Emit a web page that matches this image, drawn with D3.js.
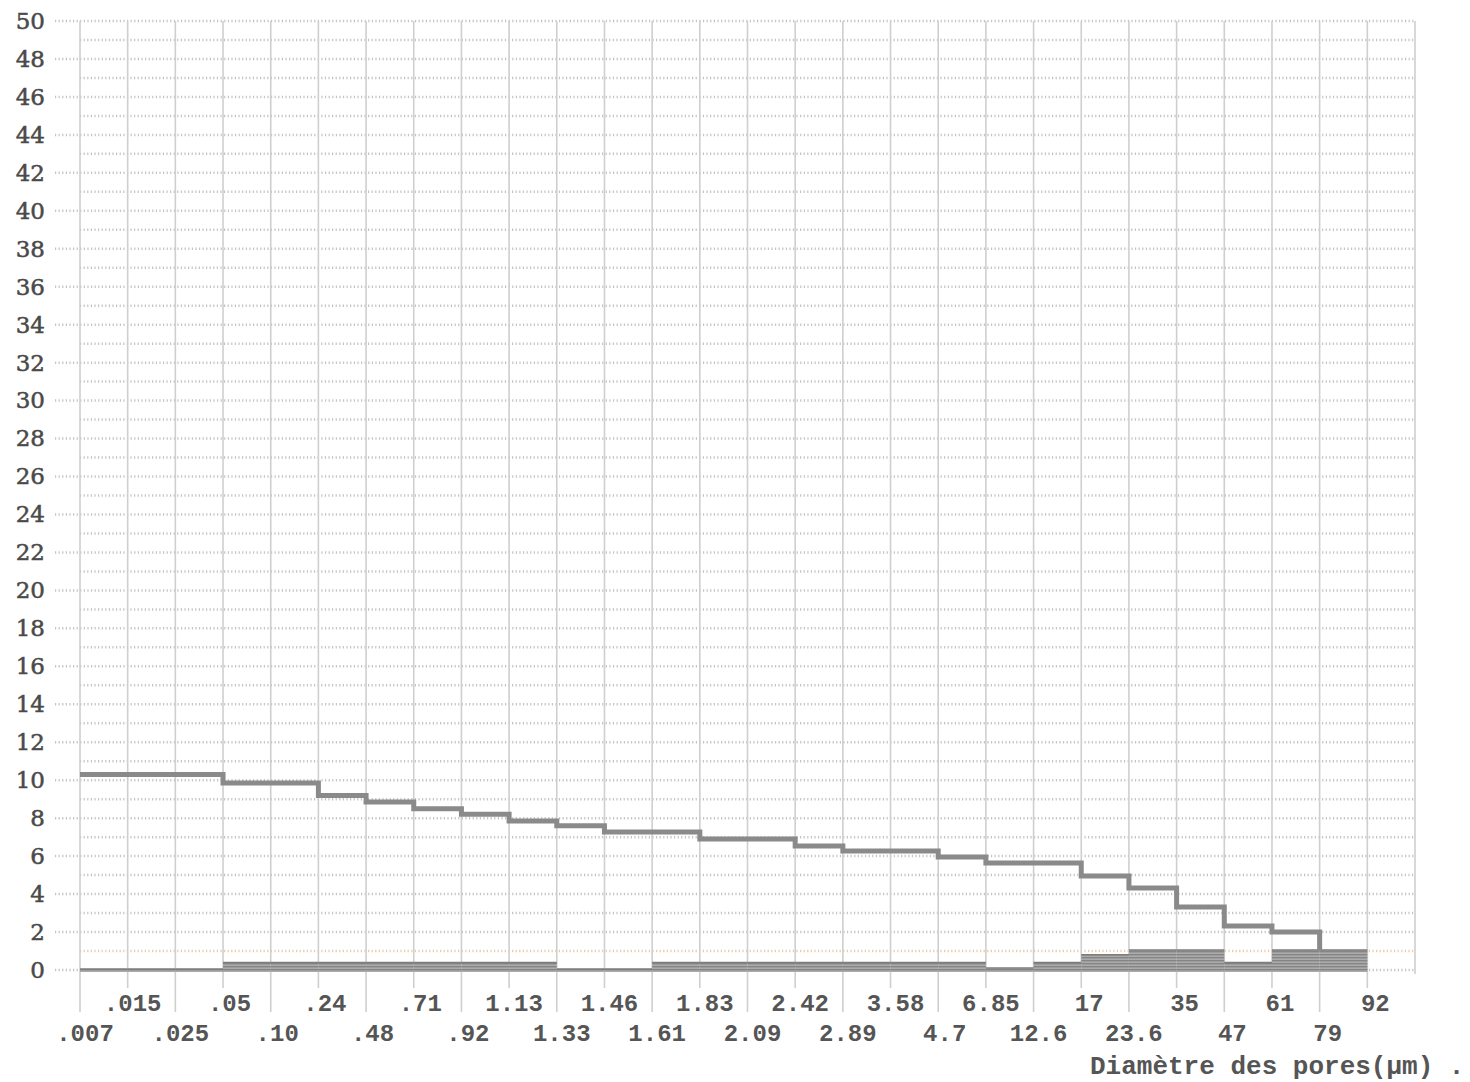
<!DOCTYPE html>
<html>
<head>
<meta charset="utf-8">
<script src="https://d3js.org/d3.v7.min.js"></script>
<style>
  body { margin: 0; background: #fff; }
</style>
</head>
<body>
<script>

// pore diameter class boundaries (µm)
const boundaries = [".007", ".015", ".025", ".05", ".10", ".24", ".48", ".71", ".92", "1.13",
  "1.33", "1.46", "1.61", "1.83", "2.09", "2.42", "2.89", "3.58", "4.7", "6.85",
  "12.6", "17", "23.6", "35", "47", "61", "79", "92"];

// cumulative curve, one value per class (from .007 up to 79)
const cumulative = [10.3, 10.3, 10.3, 9.85, 9.85, 9.2, 8.85, 8.5, 8.2, 7.85,
  7.6, 7.27, 7.27, 6.9, 6.9, 6.53, 6.27, 6.27, 5.95, 5.64,
  5.64, 4.95, 4.32, 3.32, 2.32, 2.0];

// histogram bars, one per class (from .007 up to 92)
const bars = [0.05, 0.05, 0.05, 0.4, 0.4, 0.4, 0.4, 0.4, 0.4, 0.4,
  0.05, 0.05, 0.4, 0.4, 0.4, 0.4, 0.4, 0.4, 0.4, 0.1,
  0.4, 0.8, 1.05, 1.05, 0.4, 1.05, 1.05];

const yTicks = d3.range(0, 51, 2);
const xTitle = "Diamètre des pores(µm) .";

let width = 1470, height = 1082;

var svg = d3.select("body").append("svg").attr("width", width).attr("height", height);

var x = d3.scaleLinear().domain([0, 28]).range([80, 1415]);
var y = d3.scaleLinear().domain([0, 50]).range([970, 21]);

// hatch for the bars
var defs = svg.append("defs");
var pat = defs.append("pattern").attr("id", "hatch")
  .attr("patternUnits", "userSpaceOnUse").attr("width", 8).attr("height", 3);
pat.append("rect").attr("width", 8).attr("height", 3).attr("fill", "#ababab");
pat.append("rect").attr("width", 8).attr("height", 1.4).attr("fill", "#858585");

// dotted horizontal grid, one per unit
svg.append("g").selectAll("line")
  .data(d3.range(0, 51))
  .enter().append("line")
    .attr("x1", d => d % 2 == 0 ? 55 : x(0))
    .attr("x2", x(28))
    .attr("y1", d => y(d)).attr("y2", d => y(d))
    .attr("stroke", d => d == 1 ? "#e9c9a9" : "#c4c4c4")
    .attr("stroke-width", 2.5)
    .attr("stroke-dasharray", "1.2,2.4");

// vertical grid at each class boundary, longer where a lower-row label sits
svg.append("g").selectAll("line")
  .data(d3.range(0, 29))
  .enter().append("line")
    .attr("x1", d => x(d)).attr("x2", d => x(d))
    .attr("y1", y(50))
    .attr("y2", d => d == 28 ? y(0) + 4 : (d % 2 == 1 ? 988 : 1012))
    .attr("stroke", "#cfcfcf")
    .attr("stroke-width", 1.6);

// baseline
svg.append("line")
  .attr("x1", x(0)).attr("x2", x(27))
  .attr("y1", y(0)).attr("y2", y(0))
  .attr("stroke", "#9fb3c8").attr("stroke-width", 2);

// histogram
svg.append("g").selectAll("rect")
  .data(bars)
  .enter().append("rect")
    .attr("x", (d, i) => x(i))
    .attr("width", (d, i) => x(i + 1) - x(i))
    .attr("y", d => y(d))
    .attr("height", d => y(0) - y(d) + 2)
    .attr("fill", "url(#hatch)");
svg.append("g").selectAll("line")
  .data(bars)
  .enter().append("line")
    .attr("x1", (d, i) => x(i)).attr("x2", (d, i) => x(i + 1))
    .attr("y1", d => y(d)).attr("y2", d => y(d))
    .attr("stroke", "#7d7d7d").attr("stroke-width", 1.5);

// cumulative step line
let pts = cumulative.map((v, i) => [i, v]);
pts.push([cumulative.length, cumulative[cumulative.length - 1]]);
pts.push([cumulative.length, bars[cumulative.length]]);
var line = d3.line().x(d => x(d[0])).y(d => y(d[1])).curve(d3.curveStepAfter);
svg.append("path")
  .attr("d", line(pts))
  .attr("fill", "none")
  .attr("stroke", "#8a8a8a")
  .attr("stroke-width", 5);

// y axis labels
var yAxis = svg.append("g").attr("transform", "translate(45,0)")
  .call(d3.axisLeft(y).tickValues(yTicks).tickSize(0).tickPadding(0));
yAxis.select(".domain").remove();
yAxis.selectAll("text")
  .attr("font-family", "DejaVu Serif")
  .attr("font-size", 23)
  .attr("fill", "#4a4a4a")
  .attr("stroke", "#4a4a4a")
  .attr("stroke-width", 0.5);

// x labels on two rows
svg.append("g").selectAll("text")
  .data(boundaries)
  .enter().append("text")
    .attr("x", (d, i) => x(i) + 5 + (4 - d.length) * 1.5)
    .attr("y", (d, i) => i % 2 == 1 ? 1005 : 1035)
    .attr("dominant-baseline", "middle")
    .attr("text-anchor", "middle")
    .attr("font-family", "Liberation Mono")
    .attr("font-weight", "bold")
    .attr("font-size", 24)
    .attr("fill", "#555")
    .text(d => d);

svg.append("text")
  .attr("x", 1090).attr("y", 1067)
  .attr("dominant-baseline", "middle")
  .attr("font-family", "Liberation Mono")
  .attr("font-weight", "bold")
  .attr("font-size", 26)
  .attr("fill", "#555")
  .text(xTitle);

</script>
</body>
</html>
